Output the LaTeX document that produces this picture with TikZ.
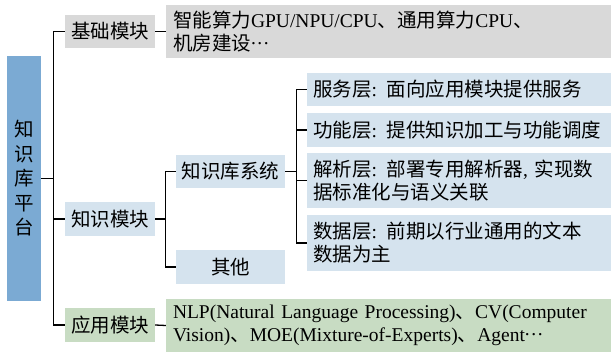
\documentclass[tikz,border=0pt]{standalone}
\usepackage{fontspec}
\setmainfont{Liberation Serif}
\newfontfamily\cjk{Noto Sans CJK SC}
\newcommand\zh[1]{{\cjk #1}}
\newcommand\mdots{\raisebox{0.32em}{.\kern0.08em.\kern0.08em.}}
\definecolor{rootblue}{HTML}{7BAAD3}
\definecolor{lblue}{HTML}{D5E3EE}
\definecolor{lgray}{HTML}{D9D9D9}
\definecolor{lgreen}{HTML}{C8DCC3}
\begin{document}
\begin{tikzpicture}[x=1pt,y=-1pt,
  box/.style={draw=none,inner sep=0pt,font=\fontsize{19.5}{23}\selectfont},
  cbox/.style={box,align=center},
  tbox/.style={box,align=left,inner xsep=7pt},
  conn/.style={draw=black,line width=1.3pt}]
\useasboundingbox (0,0) rectangle (615,355);
% root
\node[cbox,fill=rootblue,minimum width=34pt,minimum height=245pt,
      font=\fontsize{19.5}{24.5}\selectfont] (root) at (24,178.5)
      {\zh{知}\\\zh{识}\\\zh{库}\\\zh{平}\\\zh{台}};
% level 1
\node[cbox,fill=lgray,minimum width=90pt,minimum height=33pt] (jc) at (110,31.5) {\zh{基础模块}};
\node[cbox,fill=lblue,minimum width=90pt,minimum height=34pt] (zs) at (110,219) {\zh{知识模块}};
\node[cbox,fill=lgreen,minimum width=90pt,minimum height=34pt] (yy) at (110,325) {\zh{应用模块}};
% contents
\node[tbox,fill=lgray,minimum width=445pt,minimum height=53pt,text width=431pt] (jcc) at (388.5,31.5)
  {\zh{智能算力}GPU/NPU/CPU\zh{、通用算力}CPU\zh{、}\\\zh{机房建设}\mdots};
\node[tbox,fill=lgreen,minimum width=445pt,minimum height=53pt,text width=431pt] (ycc) at (388.5,325.5)
  {NLP(Natural Language Processing)\zh{、}CV(Computer\\Vision)\zh{、}MOE(Mixture-of-Experts)\zh{、}Agent\mdots};
% level 2
\node[cbox,fill=lblue,minimum width=109pt,minimum height=33pt] (kb) at (230.5,171.5) {\zh{知识库系统}};
\node[cbox,fill=lblue,minimum width=109pt,minimum height=34pt] (qt) at (230.5,267) {\zh{其他}};
% level 3
\node[tbox,fill=lblue,minimum width=304pt,minimum height=33pt,text width=292pt,inner xsep=6pt] (fw) at (459,89.5)
  {\zh{服务层}: \zh{面向应用模块提供服务}};
\node[tbox,fill=lblue,minimum width=304pt,minimum height=34pt,text width=292pt,inner xsep=6pt] (gn) at (459,130)
  {\zh{功能层}: \zh{提供知识加工与功能调度}};
\node[tbox,fill=lblue,minimum width=304pt,minimum height=55pt,text width=292pt,inner xsep=6pt] (jx) at (459,180.5)
  {\zh{解析层}: \zh{部署专用解析器}, \zh{实现数}\\\zh{据标准化与语义关联}};
\node[tbox,fill=lblue,minimum width=304pt,minimum height=56pt,text width=292pt,inner xsep=6pt] (sj) at (459,243)
  {\zh{数据层}: \zh{前期以行业通用的文本}\\\zh{数据为主}};
% connectors
\coordinate (t1) at (54,178.5);
\draw[conn] (root.east) -- (t1);
\draw[conn] (jc.west) -| ([xshift=-11pt]yy.west) -- (yy.west);
\draw[conn] (zs.west) -- ++(-11,0);
\draw[conn] (jc.east) -- (jcc.west);
\draw[conn] (yy.east) -- (ycc.west);
\coordinate (t2) at (166,219);
\draw[conn] (zs.east) -- (t2);
\draw[conn] (kb.west) -| ([xshift=-10pt]qt.west) -- (qt.west);
\coordinate (t3) at (297,171.5);
\draw[conn] (kb.east) -- (t3);
\draw[conn] (fw.west) -| ([xshift=-10pt]sj.west) -- (sj.west);
\draw[conn] (gn.west) -- ++(-10,0);
\draw[conn] (jx.west) -- ++(-10,0);
\end{tikzpicture}
\end{document}
